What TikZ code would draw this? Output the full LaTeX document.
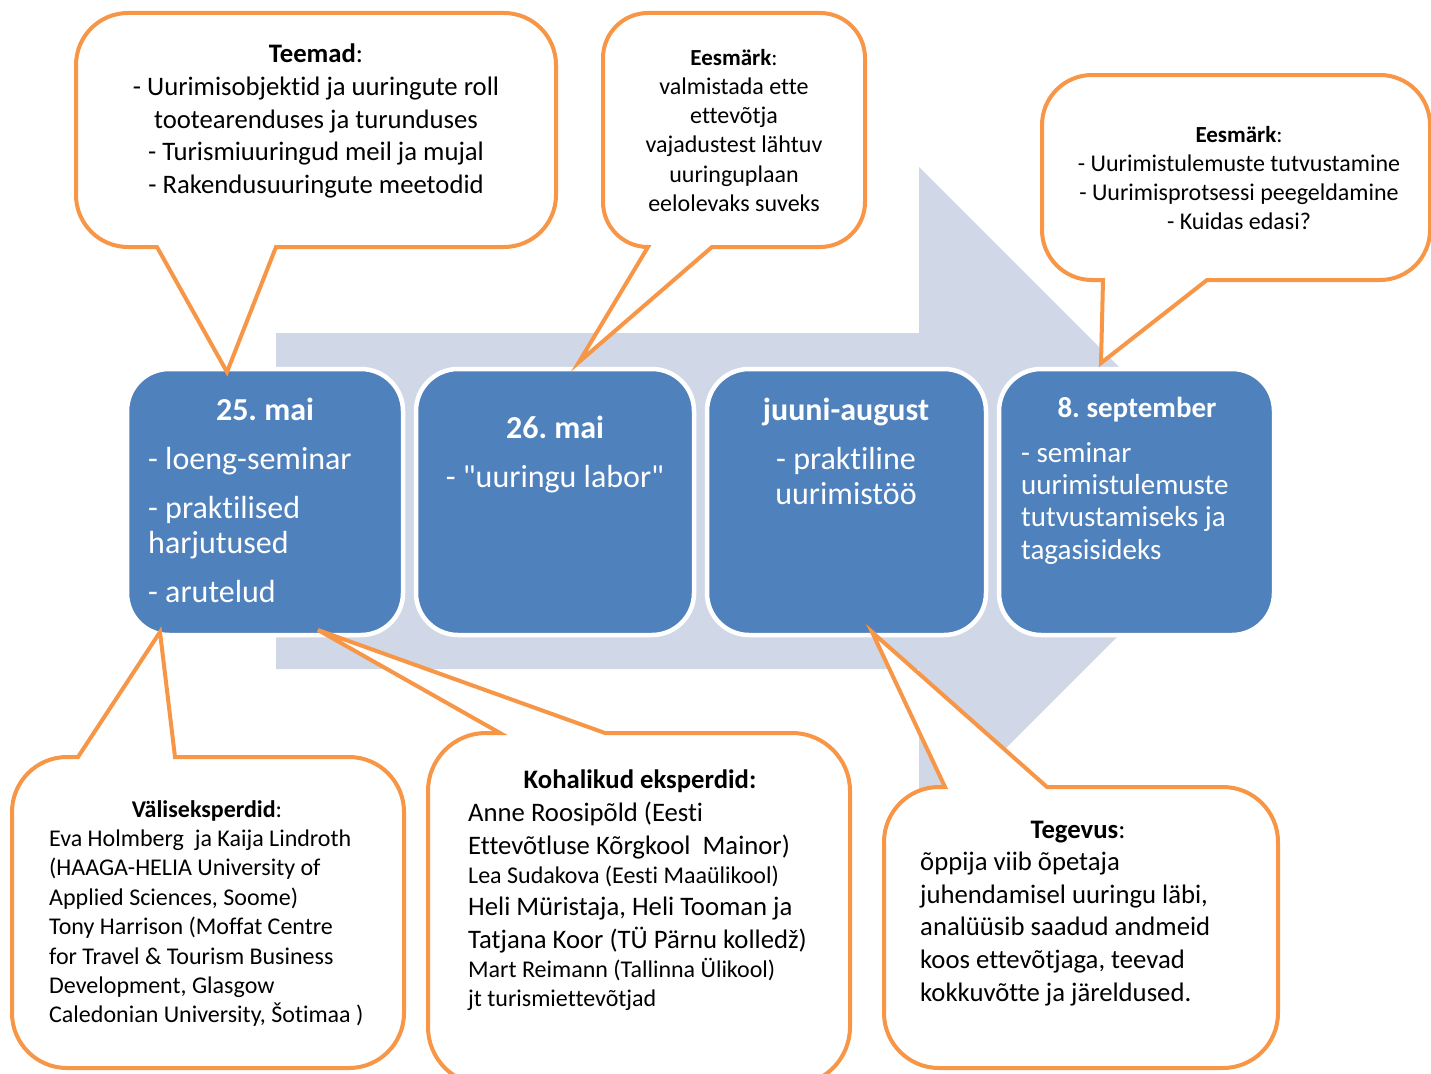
\documentclass[tikz,border=0pt]{standalone}
\usepackage{fontspec}
\setmainfont{Carlito}[Ligatures=CommonOff]
\newfontfamily\plainq{Carlito}[Ligatures=CommonOff]
\definecolor{orng}{HTML}{F79646}
\definecolor{boxblue}{HTML}{4F81BD}
\definecolor{arrowbg}{HTML}{D0D8E8}
\newcommand{\fsA}{\fontsize{26.7}{32}\selectfont}
\newcommand{\fsB}{\fontsize{24}{29}\selectfont}
\newcommand{\fsC}{\fontsize{23}{27}\selectfont}
\newcommand{\fsBox}{\fontsize{32}{35}\selectfont}
\newcommand{\fsBoxB}{\fontsize{29}{32}\selectfont}
\begin{document}
\frenchspacing
\begin{tikzpicture}[x=1pt,y=-1pt,
  callout/.style={draw=orng, line width=4pt, fill=white, line join=miter},
  blk/.style={fill=boxblue, draw=white, line width=4.5pt, rounded corners=42pt, inner sep=0pt, minimum height=266pt},
  ct/.style={anchor=base, inner sep=0pt},
  lt/.style={anchor=base west, inner sep=0pt},
  wt/.style={anchor=base, inner sep=0pt, text=white},
  wlt/.style={anchor=base west, inner sep=0pt, text=white}]
\useasboundingbox (0,0) rectangle (1431,1073);
% background arrow
\fill[arrowbg] (276,333) -- (919,333) -- (919,167) -- (1253,501) -- (919,835) -- (919,669) -- (276,669) -- cycle;
% timeline boxes
\node[blk, minimum width=276pt] (b1) at (265,502) {};
\node[blk, minimum width=278pt] (b2) at (555,502) {};
\node[blk, minimum width=279pt] (b3) at (846.5,502) {};
\node[blk, minimum width=275pt] (b4) at (1136.5,502) {};
% callouts
\draw[callout] (276,247) -- (504,247) arc[start angle=90,end angle=0,radius=52] -- (556,65) arc[start angle=0,end angle=-90,radius=52] -- (128,13) arc[start angle=-90,end angle=-180,radius=52] -- (76,195) arc[start angle=180,end angle=90,radius=52] -- (157,247) -- (227,372) -- cycle;
\draw[callout] (712,247) -- (820,247) arc[start angle=90,end angle=0,radius=45] -- (865,58) arc[start angle=0,end angle=-90,radius=45] -- (648,13) arc[start angle=-90,end angle=-180,radius=45] -- (603,202) arc[start angle=180,end angle=90,radius=45] -- (579,362) -- cycle;
\draw[callout] (1207,280) -- (1380,280) arc[start angle=90,end angle=0,radius=50] -- (1430,125) arc[start angle=0,end angle=-90,radius=50] -- (1092,75) arc[start angle=-90,end angle=-180,radius=50] -- (1042,230) arc[start angle=180,end angle=90,radius=50] -- (1103,280) -- (1101,363) -- cycle;
\draw[callout] (78,757) -- (67,757) arc[start angle=-90,end angle=-180,radius=55] -- (12,1013) arc[start angle=180,end angle=90,radius=55] -- (349,1068) arc[start angle=90,end angle=0,radius=55] -- (404,812) arc[start angle=0,end angle=-90,radius=55] -- (175,757) -- (160,632) -- cycle;
\draw[callout] (500,733) -- (486,733) arc[start angle=-90,end angle=-180,radius=58] -- (428,1027) arc[start angle=180,end angle=90,radius=58] -- (792,1085) arc[start angle=90,end angle=0,radius=58] -- (850,791) arc[start angle=0,end angle=-90,radius=58] -- (605,733) -- (318,630) -- cycle;
\draw[callout] (945,787) -- (939,787) arc[start angle=-90,end angle=-180,radius=55] -- (884,1013) arc[start angle=180,end angle=90,radius=55] -- (1223,1068) arc[start angle=90,end angle=0,radius=55] -- (1278,842) arc[start angle=0,end angle=-90,radius=55] -- (1047,787) -- (872,632) -- cycle;
% box texts
\node[wt, font=\fsBox\bfseries] (b1t) at (265,420) {25. mai};
\node[wlt, font=\fsBox] (b1a) at (148,469) {- loeng-seminar};
\node[wlt, font=\fsBox] (b1b) at (148,518) {- praktilised};
\node[wlt, font=\fsBox] (b1c) at (148,553) {harjutused};
\node[wlt, font=\fsBox] (b1d) at (148,602) {- arutelud};
\node[wt, font=\fsBox\bfseries] (b2t) at (555,438) {26. mai};
\node[wt, font=\plainq\fsBox] (b2a) at (555,487) {- "uuringu labor"};
\node[wt, font=\fsBox\bfseries] (b3t) at (846,420) {juuni-august};
\node[wt, font=\fsBox] (b3a) at (846,469) {- praktiline};
\node[wt, font=\fsBox] (b3b) at (846,504) {uurimistöö};
\node[wt, font=\fsBoxB\bfseries] (b4t) at (1137,417) {8. september};
\node[wlt, font=\fsBoxB] (b4a) at (1021,462) {- seminar};
\node[wlt, font=\fsBoxB] (b4b) at (1021,494) {uurimistulemuste};
\node[wlt, font=\fsBoxB] (b4c) at (1021,526) {tutvustamiseks ja};
\node[wlt, font=\fsBoxB] (b4d) at (1021,559) {tagasisideks};
% callout 1
\node[ct, font=\fsA] (c1t) at (316,63) {\textbf{Teemad}:};
\foreach \l [count=\i] in {{- Uurimisobjektid ja uuringute roll},{tootearenduses ja turunduses},{- Turismiuuringud meil ja mujal},{- Rakendusuuringute meetodid}}
  \node[ct, font=\fsA] (c1l\i) at (316,{63+32.5*\i}) {\l};
% callout 2
\node[ct, font=\fsC] (c2t) at (734,65) {\textbf{Eesmärk}:};
\foreach \l [count=\i] in {{valmistada ette},{ettevõtja},{vajadustest lähtuv},{uuringuplaan},{eelolevaks suveks}}
  \node[ct, font=\fsB] (c2l\i) at (734,{65+29.3*\i}) {\l};
% callout 3
\node[ct, font=\fsC] (c3t) at (1239,142) {\textbf{Eesmärk}:};
\foreach \l [count=\i] in {{- Uurimistulemuste tutvustamine},{- Uurimisprotsessi peegeldamine},{- Kuidas edasi?}}
  \node[ct, font=\fsB] (c3l\i) at (1239,{142+29.3*\i}) {\l};
% callout 4
\node[ct, font=\fsB] (c4t) at (207,817) {\textbf{Väliseksperdid}:};
\foreach \l [count=\i] in {{Eva Holmberg~ ja Kaija Lindroth},{(HAAGA-HELIA University of},{Applied Sciences, Soome)},{Tony Harrison (Moffat Centre},{for Travel \& Tourism Business},{Development, Glasgow},{Caledonian University, Šotimaa )}}
  \node[lt, font=\fsB] (c4l\i) at (49,{817+29.4*\i}) {\l};
% callout 5
\node[ct, font=\fsA\bfseries] (c5t) at (640,788) {Kohalikud eksperdid:};
\node[lt, font=\fsA] (c5a) at (468,821) {Anne Roosipõld (Eesti};
\node[lt, font=\fsA] (c5b) at (468,854) {Ettevõtluse Kõrgkool~ Mainor)};
\node[lt, font=\fsB] (c5c) at (468,883) {Lea Sudakova (Eesti Maaülikool)};
\node[lt, font=\fsA] (c5d) at (468,915) {Heli Müristaja, Heli Tooman ja};
\node[lt, font=\fsA] (c5e) at (468,948) {Tatjana Koor (TÜ Pärnu kolledž)};
\node[lt, font=\fsB] (c5f) at (468,977) {Mart Reimann (Tallinna Ülikool)};
\node[lt, font=\fsB] (c5g) at (468,1006) {jt turismiettevõtjad};
% callout 6
\node[ct, font=\fsA] (c6t) at (1078,838) {\textbf{Tegevus}:};
\foreach \l [count=\i] in {{õppija viib õpetaja},{juhendamisel uuringu läbi,},{analüüsib saadud andmeid},{koos ettevõtjaga, teevad},{kokkuvõtte ja järeldused.}}
  \node[lt, font=\fsA] (c6l\i) at (920,{838+32.6*\i}) {\l};
\end{tikzpicture}
\end{document}
